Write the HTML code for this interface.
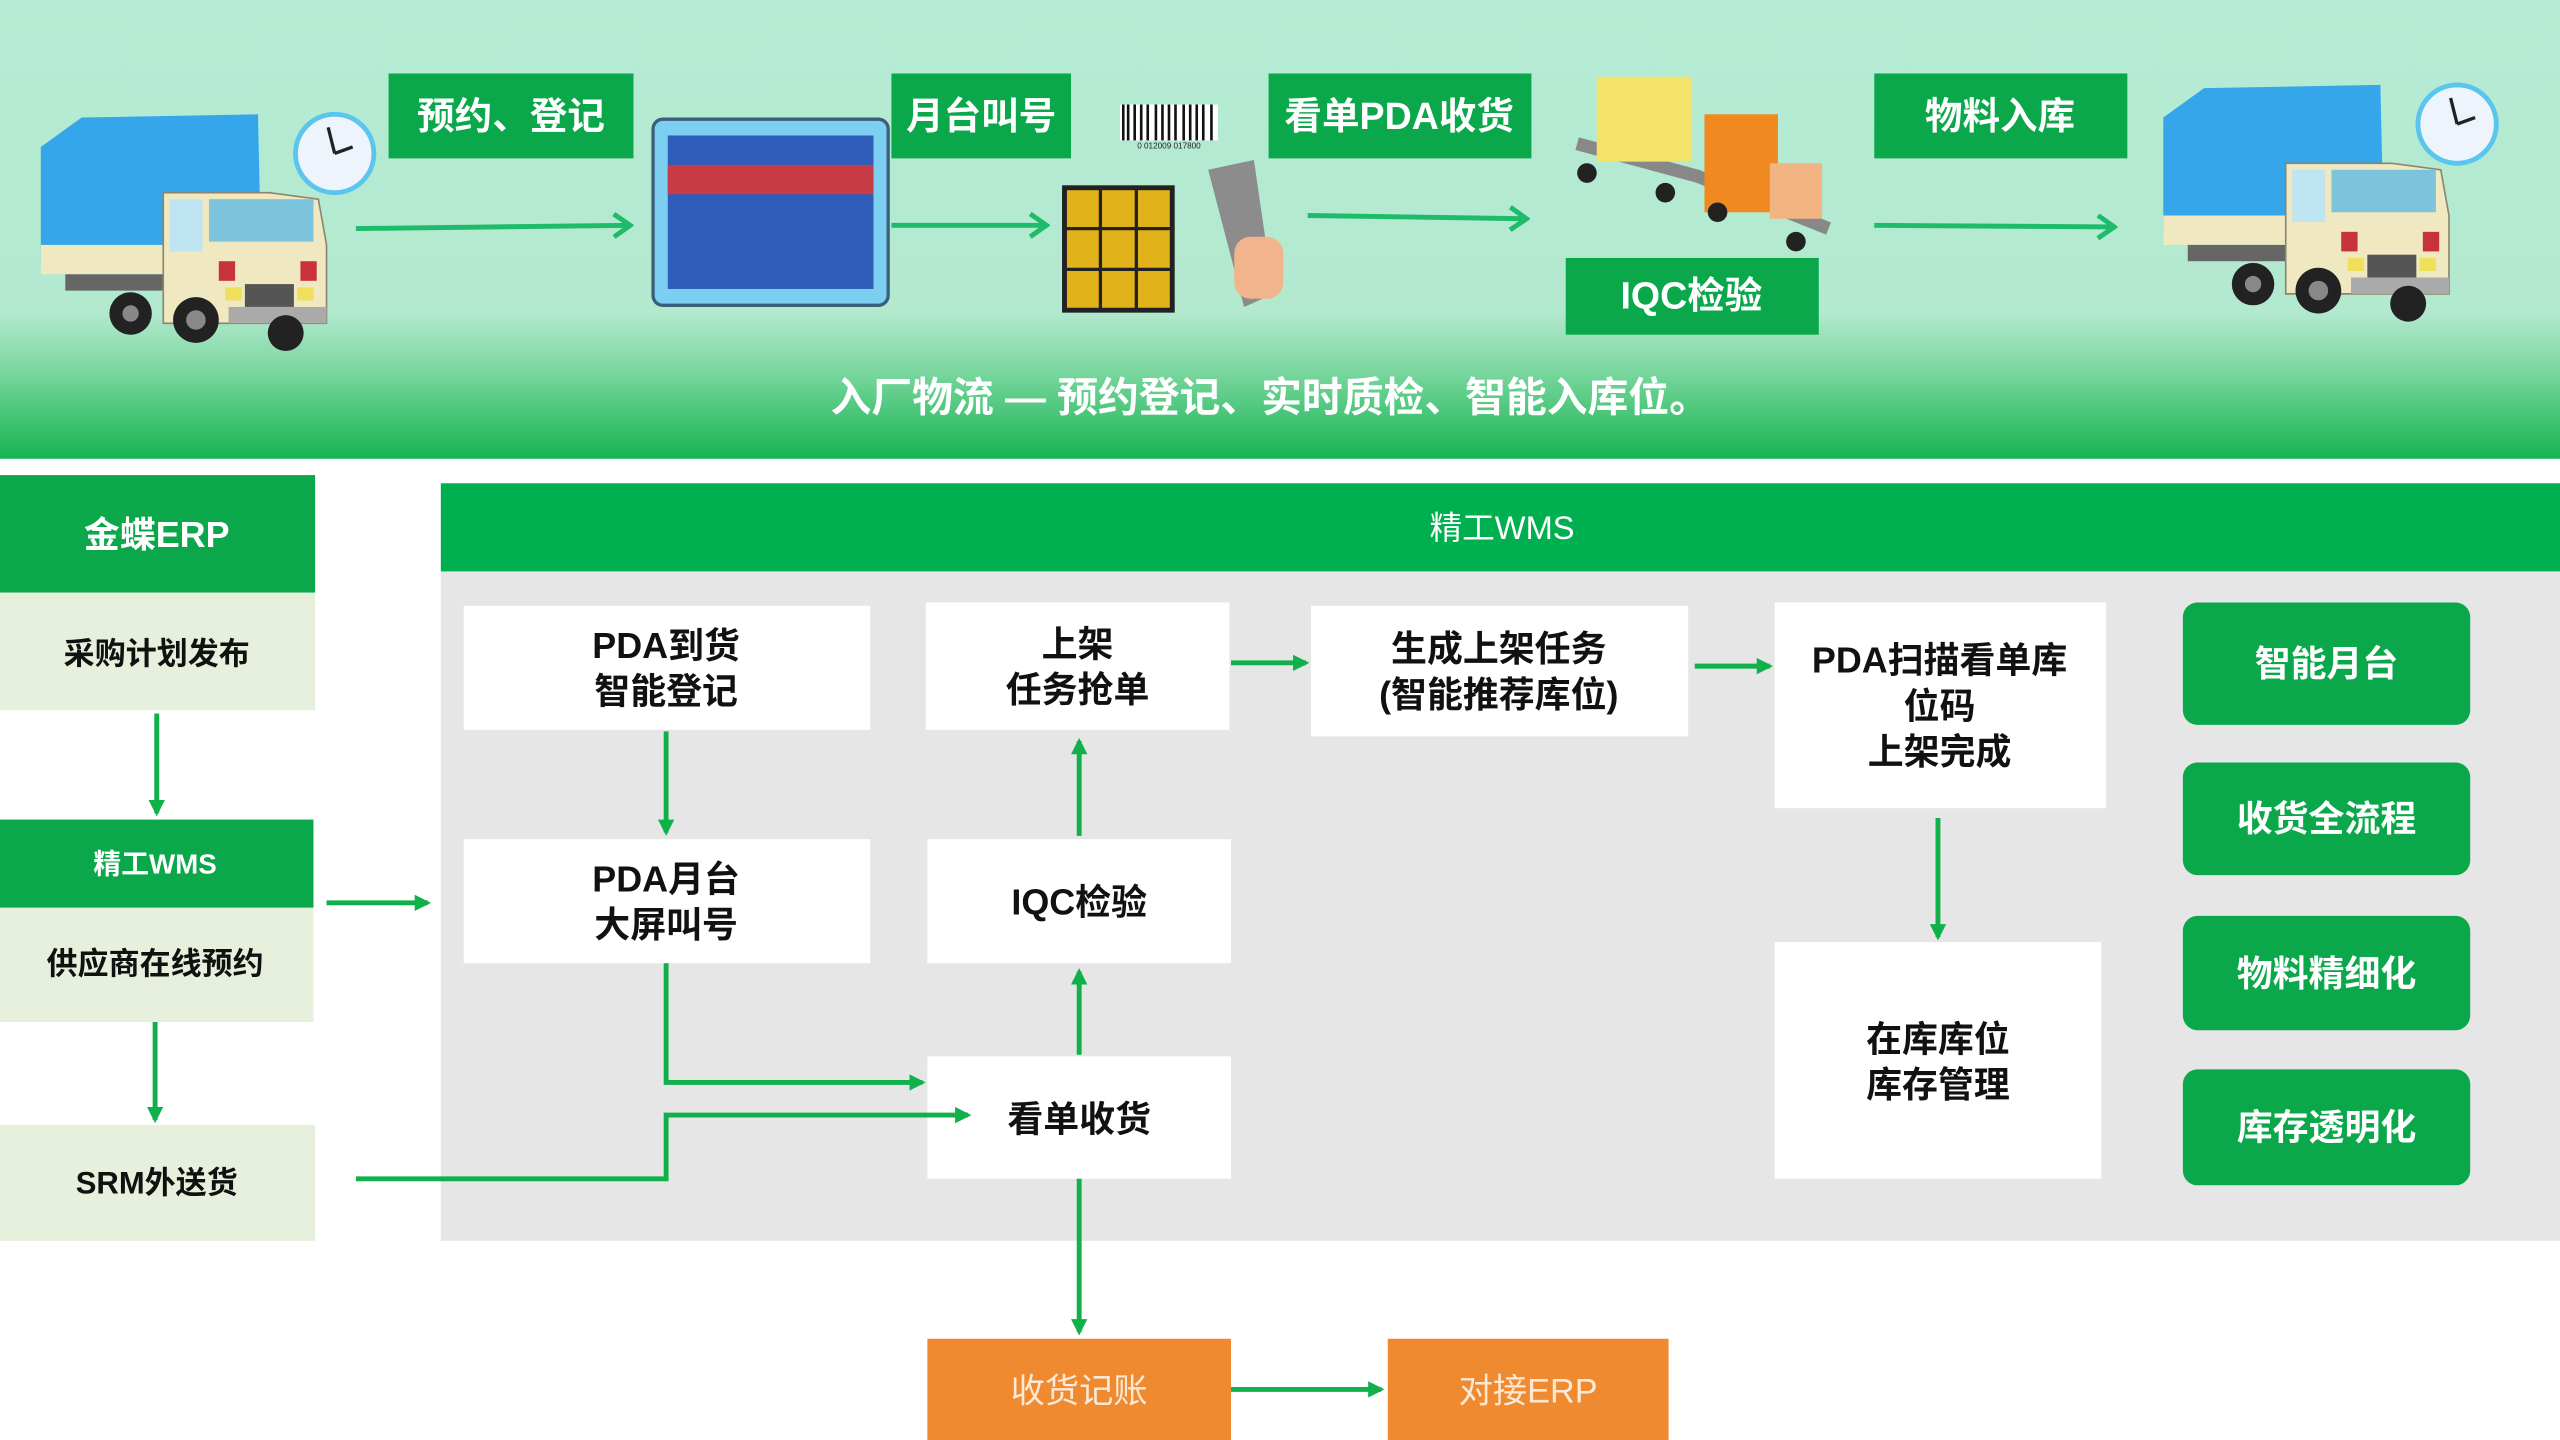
<!DOCTYPE html>
<html><head><meta charset="utf-8"><style>
html,body{margin:0;padding:0;background:#fff;}
svg{display:block}
text{font-family:"Liberation Sans","Noto Sans CJK SC",sans-serif;}
</style></head><body>
<svg width="2560" height="1440" viewBox="0 0 1568 882" preserveAspectRatio="none" xmlns="http://www.w3.org/2000/svg">
<defs>
<linearGradient id="bg" x1="0" y1="0" x2="0" y2="1">
<stop offset="0" stop-color="#b6ebd5"/><stop offset="0.68" stop-color="#b3e9cf"/><stop offset="0.8" stop-color="#7fd8a2"/><stop offset="1" stop-color="#16b452"/>
</linearGradient>
<marker id="ah" markerWidth="10" markerHeight="10" refX="8" refY="5" orient="auto" markerUnits="userSpaceOnUse"><path d="M0,0 L10,5 L0,10 z" fill="#10b04a"/></marker>
<marker id="ch" markerWidth="14" markerHeight="16" refX="12" refY="8" orient="auto" markerUnits="userSpaceOnUse"><path d="M2,1 L12,8 L2,15" fill="none" stroke="#1dbb6a" stroke-width="3"/></marker>
<g id="truck">
<path d="M25 90 L50 72 L158 70 L160 160 L25 160 z" fill="#35a6ea"/>
<rect x="25" y="150" width="80" height="18" fill="#efe8c0"/>
<rect x="40" y="168" width="60" height="10" fill="#666"/>
<path d="M100 118 L165 118 L195 122 L200 150 L200 198 L100 198 z" fill="#efe8c0" stroke="#8a8570" stroke-width="1"/>
<rect x="128" y="122" width="64" height="26" fill="#7cc4dc"/>
<rect x="104" y="122" width="20" height="32" fill="#bfe4f2"/>
<rect x="134" y="160" width="10" height="12" fill="#c8333a"/>
<rect x="184" y="160" width="10" height="12" fill="#c8333a"/>
<rect x="150" y="174" width="30" height="14" fill="#555"/>
<rect x="138" y="176" width="10" height="8" fill="#eee05a"/>
<rect x="182" y="176" width="10" height="8" fill="#eee05a"/>
<rect x="140" y="188" width="60" height="10" fill="#aaa"/>
<circle cx="80" cy="192" r="13" fill="#222"/><circle cx="80" cy="192" r="5" fill="#888"/>
<circle cx="120" cy="196" r="14" fill="#222"/><circle cx="120" cy="196" r="6" fill="#888"/>
<circle cx="175" cy="204" r="11" fill="#222"/>
<circle cx="205" cy="94" r="24" fill="#eef4fb" stroke="#5ac6ee" stroke-width="3"/>
<path d="M205 94 L201 78 M205 94 L216 90" stroke="#222" stroke-width="2"/>
</g>
</defs>
<rect x="0" y="0" width="1568" height="281" fill="url(#bg)"/>
<use href="#truck"/>
<use href="#truck" transform="translate(1300,-18)"/>
<!-- tablet -->
<rect x="400" y="73" width="144" height="114" rx="6" fill="#7ccff0" stroke="#3a5f7a" stroke-width="2"/>
<rect x="409" y="83" width="126" height="94" fill="#2f5cb8"/>
<rect x="409" y="101" width="126" height="18" fill="#c63b45"/>
<!-- cage -->
<rect x="652" y="115" width="66" height="75" fill="#e2b21a" stroke="#222" stroke-width="3"/>
<path d="M674 115 V190 M696 115 V190 M652 140 H718 M652 165 H718" stroke="#222" stroke-width="2"/>
<rect x="686" y="64" width="60" height="22" fill="#fff"/>
<path d="M688 64 V86 M691 64 V86 M695 64 V86 M699 64 V86 M703 64 V86 M708 64 V86 M712 64 V86 M716 64 V86 M720 64 V86 M725 64 V86 M729 64 V86 M733 64 V86 M737 64 V86 M742 64 V86" stroke="#111" stroke-width="1.6"/>
<text x="716" y="91" font-size="5" text-anchor="middle" fill="#222">0 012009 017800</text>
<path d="M740 104 L768 98 L780 180 L762 188 z" fill="#8c8c8c"/>
<rect x="756" y="145" width="30" height="38" rx="10" fill="#f2b48c"/>
<!-- cart -->
<path d="M966 88 L1040 108 L1120 140" stroke="#888" stroke-width="8" fill="none"/>
<rect x="978" y="47" width="58" height="52" fill="#f3e36a"/>
<rect x="1044" y="70" width="45" height="60" fill="#f08a20"/>
<rect x="1084" y="100" width="32" height="34" fill="#f2b482"/>
<circle cx="972" cy="106" r="6" fill="#222"/><circle cx="1020" cy="118" r="6" fill="#222"/><circle cx="1052" cy="130" r="6" fill="#222"/><circle cx="1100" cy="148" r="6" fill="#222"/>
<!-- top labels -->
<g fill="#0aa84a">
<rect x="238" y="45" width="150" height="52"/><rect x="546" y="45" width="110" height="52"/><rect x="777" y="45" width="161" height="52"/><rect x="1148" y="45" width="155" height="52"/><rect x="959" y="158" width="155" height="47"/>
</g>
<g fill="#fff" font-size="23" font-weight="bold" text-anchor="middle">
<text x="313" y="79">预约、登记</text><text x="601" y="79">月台叫号</text><text x="857" y="79">看单PDA收货</text><text x="1225" y="79">物料入库</text><text x="1036" y="189">IQC检验</text>
<text x="778" y="252" font-size="25">入厂物流 — 预约登记、实时质检、智能入库位。</text>
</g>
<g stroke="#1dbb6a" stroke-width="3" fill="none" marker-end="url(#ch)">
<path d="M218 140 L386 138"/><path d="M546 138 L641 138"/><path d="M801 132 L935 134"/><path d="M1148 138 L1295 139"/>
</g>
<!-- left column -->
<rect x="0" y="291" width="193" height="72" fill="#0aa84a"/>
<rect x="0" y="363" width="193" height="72" fill="#e6f0dc"/>
<rect x="0" y="502" width="192" height="54" fill="#0aa84a"/>
<rect x="0" y="556" width="192" height="70" fill="#e6f0dc"/>
<rect x="0" y="689" width="193" height="71" fill="#e6f0dc"/>
<g font-weight="bold" text-anchor="middle">
<text x="96" y="335" font-size="22" fill="#fff">金蝶ERP</text>
<text x="96" y="407" font-size="19" fill="#111">采购计划发布</text>
<text x="95" y="535" font-size="17" fill="#fff">精工WMS</text>
<text x="95" y="597" font-size="19" fill="#111">供应商在线预约</text>
<text x="96" y="731" font-size="19" fill="#111">SRM外送货</text>
</g>
<!-- panel -->
<rect x="270" y="350" width="1298" height="410" fill="#e6e6e6"/>
<rect x="270" y="296" width="1298" height="54" fill="#00b050"/>
<text x="920" y="330" font-size="20" fill="#fff" text-anchor="middle">精工WMS</text>
<g fill="#fff">
<rect x="284" y="371" width="249" height="76"/><rect x="567" y="369" width="186" height="78"/><rect x="803" y="371" width="231" height="80"/><rect x="1087" y="369" width="203" height="126"/>
<rect x="284" y="514" width="249" height="76"/><rect x="568" y="514" width="186" height="76"/><rect x="568" y="647" width="186" height="75"/><rect x="1087" y="577" width="200" height="145"/>
</g>
<g font-size="22" font-weight="bold" fill="#111" text-anchor="middle">
<text x="408" y="403">PDA到货</text><text x="408" y="431">智能登记</text>
<text x="660" y="402">上架</text><text x="660" y="430">任务抢单</text>
<text x="918" y="405">生成上架任务</text><text x="918" y="433">(智能推荐库位)</text>
<text x="1188" y="412">PDA扫描看单库</text><text x="1188" y="440">位码</text><text x="1188" y="468">上架完成</text>
<text x="408" y="546">PDA月台</text><text x="408" y="574">大屏叫号</text>
<text x="661" y="560">IQC检验</text>
<text x="661" y="693">看单收货</text>
<text x="1187" y="644">在库库位</text><text x="1187" y="672">库存管理</text>
</g>
<g fill="#0aa84a">
<rect x="1337" y="369" width="176" height="75" rx="9"/><rect x="1337" y="467" width="176" height="69" rx="9"/><rect x="1337" y="561" width="176" height="70" rx="9"/><rect x="1337" y="655" width="176" height="71" rx="9"/>
</g>
<g font-size="22" font-weight="bold" fill="#fff" text-anchor="middle">
<text x="1425" y="414">智能月台</text><text x="1425" y="509">收货全流程</text><text x="1425" y="604">物料精细化</text><text x="1425" y="698">库存透明化</text>
</g>
<g fill="#f08a30">
<rect x="568" y="820" width="186" height="62"/><rect x="850" y="820" width="172" height="62"/>
</g>
<g font-size="21" fill="#fbe9d6" text-anchor="middle">
<text x="661" y="859">收货记账</text><text x="936" y="859">对接ERP</text>
</g>
<!-- connectors -->
<g stroke="#10b04a" stroke-width="3" fill="none" marker-end="url(#ah)">
<path d="M96 437 V498"/><path d="M95 626 V686"/><path d="M200 553 H262"/>
<path d="M408 448 V510"/><path d="M661 512 V454"/><path d="M661 646 V595"/>
<path d="M754 406 H800"/><path d="M1038 408 H1084"/><path d="M1187 501 V574"/>
<path d="M408 590 V663 H565"/><path d="M218 722 H408 V683 H593"/>
<path d="M661 722 V816"/><path d="M754 851 H846"/>
</g>
</svg>
</body></html>
